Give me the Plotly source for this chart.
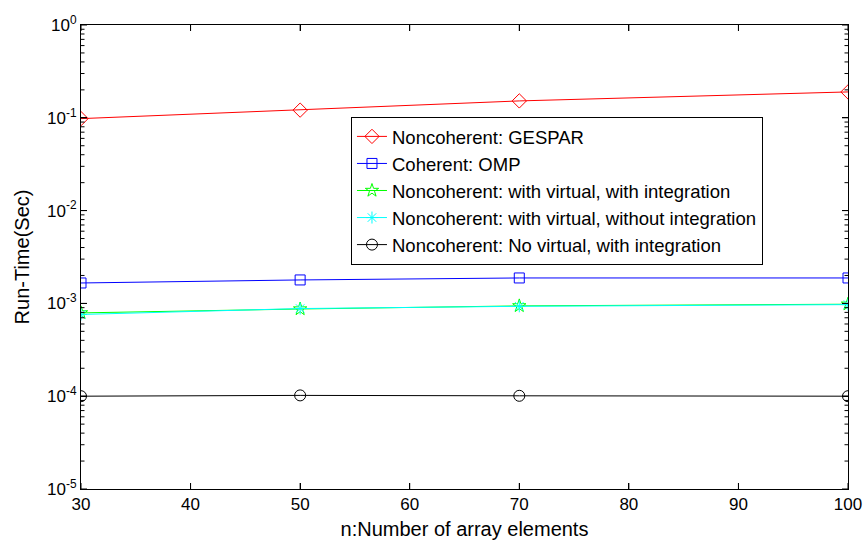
import plotly.graph_objects as go

n = [30, 50, 70, 100]
gespar = [0.098, 0.121, 0.152, 0.19]
omp = [0.00166, 0.00179, 0.00188, 0.00188]
virt_int = [0.00079, 0.00087, 0.00094, 0.00098]
virt_noint = [0.00076, 0.00088, 0.00093, 0.00097]
novirt_int = [0.0001, 0.000102, 0.000101, 0.0001]

series = [
    ("Noncoherent: GESPAR", gespar, "#ff0000", "diamond-open", 11),
    ("Coherent: OMP", omp, "#0000ff", "square-open", 10),
    ("Noncoherent: with virtual, with integration", virt_int, "#00ff00", "star-open", 10),
    ("Noncoherent: with virtual, without integration", virt_noint, "#00ffff", "asterisk-open", 10),
    ("Noncoherent: No virtual, with integration", novirt_int, "#000000", "circle-open", 11),
]

y_major = [1e-5, 1e-4, 1e-3, 1e-2, 1e-1, 1]
y_major_text = ["10<sup>-5</sup>", "10<sup>-4</sup>", "10<sup>-3</sup>",
                "10<sup>-2</sup>", "10<sup>-1</sup>", "10<sup>0</sup>"]
y_minor = [m * 10 ** e for e in range(-5, 0) for m in range(2, 10)]
x_ticks = [30, 40, 50, 60, 70, 80, 90, 100]

fig = go.Figure()
for i, (name, vals, col, sym, sz) in enumerate(series):
    fig.add_trace(go.Scatter(
        x=n, y=vals, name=name, mode="lines+markers",
        line=dict(color=col, width=1),
        marker=dict(symbol=sym, size=sz, color=col, line=dict(color=col, width=1)),
        legendgroup=f"g{i}",
    ))

# plot area size in px (for tick-mark lengths)
W, H = 865 - 81 - 17, 547 - 25 - 58
tick = dict(color="black", width=1)
shapes = []
for v in x_ticks:
    for y0, y1 in [(0, 6 / H), (1, 1 - 6 / H)]:
        shapes.append(dict(type="line", xref="x", yref="y domain", x0=v, x1=v,
                           y0=y0, y1=y1, line=tick, layer="above"))
for vals, ln in [(y_major, 6), (y_minor, 3.5)]:
    for v in vals:
        for x0, x1 in [(0, ln / W), (1, 1 - ln / W)]:
            shapes.append(dict(type="line", xref="x domain", yref="y", x0=x0, x1=x1,
                               y0=v, y1=v, line=tick, layer="above"))

font = "Liberation Sans, Arial, sans-serif"
fig.update_layout(
    width=865, height=547,
    margin=dict(l=81, r=17, t=25, b=58),
    paper_bgcolor="white", plot_bgcolor="white",
    font=dict(family=font, size=17, color="black"),
    showlegend=True,
    shapes=shapes,
    legend=dict(
        x=0.352, y=0.802, xanchor="left", yanchor="top",
        bgcolor="white", bordercolor="black", borderwidth=1,
        font=dict(family=font, size=18.5, color="black"),
        tracegroupgap=0,
    ),
    xaxis=dict(
        range=[30, 100], tickmode="array", tickvals=x_ticks, automargin=False,
        ticks="inside", ticklen=6, tickcolor="#000000",
        showline=True, linecolor="black", linewidth=1, mirror="ticks",
        showgrid=False, zeroline=False,
        title=dict(text="n:Number of array elements", font=dict(size=20), standoff=8),
        tickfont=dict(size=17),
    ),
    yaxis=dict(
        type="log", range=[-5, 0], tickmode="array", tickvals=y_major, ticktext=y_major_text,
        automargin=False,
        ticks="inside", ticklen=6, tickcolor="#000000",
        showline=True, linecolor="black", linewidth=1, mirror="ticks",
        showgrid=False, zeroline=False,
        title=dict(text="Run-Time(Sec)", font=dict(size=20), standoff=12),
        tickfont=dict(size=17),
    ),
)

fig.write_html("out.html", config={"displayModeBar": False},
               post_script="document.body.style.margin='0';document.body.style.overflow='hidden';")
